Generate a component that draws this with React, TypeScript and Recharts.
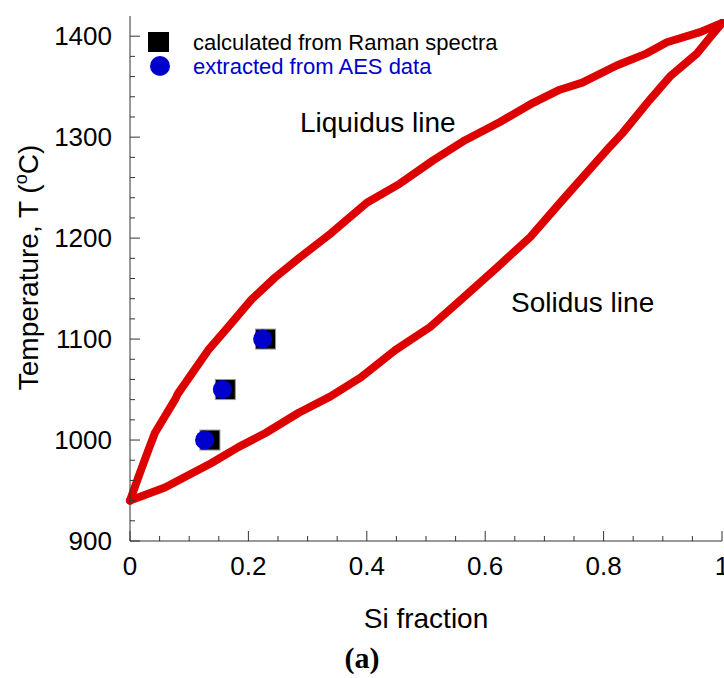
import { ComposedChart, Line, Scatter, XAxis, YAxis } from 'recharts'

// phase diagram curves (Si fraction, temperature in °C)
const liquidus = [
  { x: 0, t: 940 },
  { x: 0.014, t: 963 },
  { x: 0.031, t: 990 },
  { x: 0.042, t: 1007 },
  { x: 0.076, t: 1040 },
  { x: 0.081, t: 1046 },
  { x: 0.132, t: 1089 },
  { x: 0.166, t: 1112 },
  { x: 0.205, t: 1139 },
  { x: 0.245, t: 1161 },
  { x: 0.287, t: 1181 },
  { x: 0.34, t: 1205 },
  { x: 0.4, t: 1235 },
  { x: 0.456, t: 1254 },
  { x: 0.512, t: 1277 },
  { x: 0.566, t: 1297 },
  { x: 0.625, t: 1315 },
  { x: 0.681, t: 1334 },
  { x: 0.726, t: 1347 },
  { x: 0.764, t: 1354 },
  { x: 0.822, t: 1371 },
  { x: 0.873, t: 1383 },
  { x: 0.907, t: 1394 },
  { x: 0.963, t: 1404 },
  { x: 1, t: 1413 },
]

const solidus = [
  { x: 0, t: 940 },
  { x: 0.059, t: 953 },
  { x: 0.137, t: 977 },
  { x: 0.183, t: 993 },
  { x: 0.229, t: 1007 },
  { x: 0.285, t: 1027 },
  { x: 0.338, t: 1043 },
  { x: 0.39, t: 1062 },
  { x: 0.448, t: 1089 },
  { x: 0.507, t: 1112 },
  { x: 0.559, t: 1139 },
  { x: 0.62, t: 1171 },
  { x: 0.676, t: 1201 },
  { x: 0.731, t: 1238 },
  { x: 0.805, t: 1287 },
  { x: 0.832, t: 1304 },
  { x: 0.878, t: 1337 },
  { x: 0.912, t: 1360 },
  { x: 0.958, t: 1383 },
  { x: 0.98, t: 1399 },
  { x: 1, t: 1413 },
]

const ramanPoints = [
  { x: 0.135, t: 1000 },
  { x: 0.161, t: 1050 },
  { x: 0.229, t: 1100 },
]

const aesPoints = [
  { x: 0.126, t: 1000 },
  { x: 0.156, t: 1050 },
  { x: 0.224, t: 1100 },
]

const xTicks = [0, 0.05, 0.1, 0.15, 0.2, 0.25, 0.3, 0.35, 0.4, 0.45, 0.5, 0.55, 0.6, 0.65, 0.7, 0.75, 0.8, 0.85, 0.9, 0.95, 1]
const xMajor = [0, 0.2, 0.4, 0.6, 0.8, 1]
const yTicks = [
  900, 920, 940, 960, 980, 1000, 1020, 1040, 1060, 1080, 1100, 1120, 1140, 1160, 1180, 1200, 1220, 1240, 1260, 1280,
  1300, 1320, 1340, 1360, 1380, 1400,
]
const yMajor = [900, 1000, 1100, 1200, 1300, 1400]

const FONT = 'Liberation Sans, Arial, Helvetica, sans-serif'
const AXIS = '#333'
const RED = '#dc0000'
const BLUE = '#0000cc'

function BottomTick({ x, y, payload }: any) {
  const major = xMajor.includes(payload.value)
  return (
    <g>
      <line x1={x} y1={y} x2={x} y2={y - (major ? 10 : 5)} stroke={AXIS} />
      {major && (
        <text x={x} y={y + 34} textAnchor="middle" fontSize={26} fontFamily={FONT} fill="#000">
          {String(payload.value)}
        </text>
      )}
    </g>
  )
}

function TopTick({ x, y, payload }: any) {
  const major = xMajor.includes(payload.value)
  return <line x1={x} y1={y} x2={x} y2={y + (major ? 10 : 5)} stroke={AXIS} />
}

function LeftTick({ x, y, payload }: any) {
  const major = yMajor.includes(payload.value)
  return (
    <g>
      <line x1={x} y1={y} x2={x + (major ? 10 : 5)} y2={y} stroke={AXIS} />
      {major && (
        <text x={x - 18} y={y + 9} textAnchor="end" fontSize={26} fontFamily={FONT} fill="#000">
          {String(payload.value)}
        </text>
      )}
    </g>
  )
}

function RightTick({ x, y, payload }: any) {
  const major = yMajor.includes(payload.value)
  return <line x1={x} y1={y} x2={x - (major ? 10 : 5)} y2={y} stroke={AXIS} />
}

function YTitle({ viewBox }: any) {
  const cx = viewBox.x + 38
  const cy = viewBox.y + viewBox.height / 2 - 11
  return (
    <text transform={`rotate(-90, ${cx}, ${cy})`} x={cx} y={cy} textAnchor="middle" fontSize={28} fontFamily={FONT} fill="#000">
      Temperature, T (<tspan fontSize={18} dy={-11}>o</tspan>
      <tspan dy={11}>C)</tspan>
    </text>
  )
}

function XTitle({ viewBox }: any) {
  return (
    <text x={viewBox.x + viewBox.width / 2} y={viewBox.y + 87} textAnchor="middle" fontSize={28} fontFamily={FONT} fill="#000">
      Si fraction
    </text>
  )
}

const SquareMark = ({ cx, cy }: any) => <rect x={cx - 10} y={cy - 10} width={20} height={20} fill="#000" stroke="#999" strokeWidth={1} />
const CircleMark = ({ cx, cy }: any) => <circle cx={cx} cy={cy} r={9.5} fill={BLUE} />

export default function App() {
  return (
    <div style={{ position: 'absolute', left: 0, top: 0, width: 724, height: 678, background: '#fff', fontFamily: FONT }}>
      <ComposedChart width={724} height={678} margin={{ top: 16, right: 2, bottom: 0, left: 0 }}>
        <XAxis
          xAxisId="b"
          dataKey="x"
          type="number"
          domain={[0, 1]}
          ticks={xTicks}
          interval={0}
          height={137}
          tickSize={0}
          tickMargin={0}
          tickLine={false}
          axisLine={{ stroke: AXIS }}
          tick={<BottomTick />}
          label={{ content: <XTitle /> }}
        />
        <XAxis
          xAxisId="t"
          orientation="top"
          dataKey="x"
          type="number"
          domain={[0, 1]}
          ticks={xTicks}
          interval={0}
          height={0}
          tickSize={0}
          tickMargin={0}
          tickLine={false}
          axisLine={{ stroke: AXIS }}
          tick={<TopTick />}
        />
        <YAxis
          yAxisId="l"
          dataKey="t"
          type="number"
          domain={[900, 1420]}
          ticks={yTicks}
          interval={0}
          width={130}
          tickSize={0}
          tickMargin={0}
          tickLine={false}
          axisLine={{ stroke: AXIS }}
          tick={<LeftTick />}
          label={{ content: <YTitle /> }}
        />
        <YAxis
          yAxisId="r"
          orientation="right"
          dataKey="t"
          type="number"
          domain={[900, 1420]}
          ticks={yTicks}
          interval={0}
          width={0}
          tickSize={0}
          tickMargin={0}
          tickLine={false}
          axisLine={{ stroke: AXIS }}
          tick={<RightTick />}
        />
        <Line
          xAxisId="b"
          yAxisId="l"
          data={liquidus}
          dataKey="t"
          type="linear"
          stroke={RED}
          strokeWidth={8}
          strokeLinejoin="round"
          strokeLinecap="round"
          dot={false}
          activeDot={false}
          isAnimationActive={false}
        />
        <Line
          xAxisId="b"
          yAxisId="l"
          data={solidus}
          dataKey="t"
          type="linear"
          stroke={RED}
          strokeWidth={8}
          strokeLinejoin="round"
          strokeLinecap="round"
          dot={false}
          activeDot={false}
          isAnimationActive={false}
        />
        <Scatter xAxisId="b" yAxisId="l" data={ramanPoints} dataKey="t" shape={SquareMark} isAnimationActive={false} />
        <Scatter xAxisId="b" yAxisId="l" data={aesPoints} dataKey="t" shape={CircleMark} isAnimationActive={false} />
      </ComposedChart>

      {/* legend */}
      <div style={{ position: 'absolute', left: 148, top: 32, width: 21, height: 20, background: '#000' }} />
      <div style={{ position: 'absolute', left: 150, top: 56, width: 20, height: 20, borderRadius: '50%', background: BLUE }} />
      <div style={{ position: 'absolute', left: 193, top: 32, fontSize: 22, lineHeight: '22px', color: '#000', whiteSpace: 'nowrap' }}>
        calculated from Raman spectra
      </div>
      <div style={{ position: 'absolute', left: 193, top: 56, fontSize: 22, lineHeight: '22px', color: BLUE, whiteSpace: 'nowrap' }}>
        extracted from AES data
      </div>

      {/* curve labels */}
      <div style={{ position: 'absolute', left: 300, top: 109, fontSize: 28, lineHeight: '28px', color: '#000', whiteSpace: 'nowrap' }}>
        Liquidus line
      </div>
      <div style={{ position: 'absolute', left: 511, top: 289, fontSize: 28, lineHeight: '28px', color: '#000', whiteSpace: 'nowrap' }}>
        Solidus line
      </div>

      {/* panel caption */}
      <div
        style={{
          position: 'absolute',
          left: 0,
          width: 724,
          top: 643,
          textAlign: 'center',
          fontFamily: 'Liberation Serif, Times New Roman, serif',
          fontWeight: 'bold',
          fontSize: 30,
          lineHeight: '30px',
          color: '#000',
        }}
      >
        (<span>a</span>)
      </div>
    </div>
  )
}
